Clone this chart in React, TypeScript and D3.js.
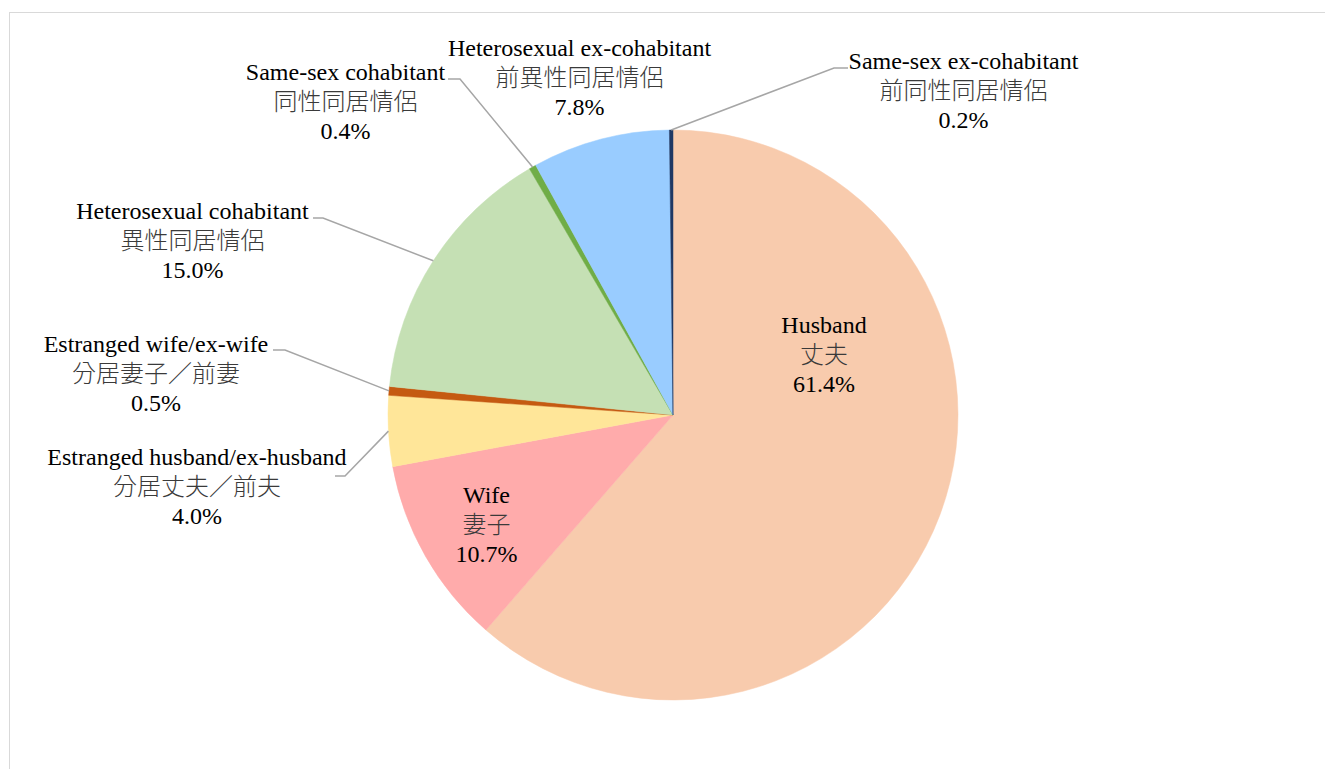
import React from "react";
import * as d3 from "d3";

const categories = [
  "Husband",
  "Wife",
  "Estranged husband/ex-husband",
  "Estranged wife/ex-wife",
  "Heterosexual cohabitant",
  "Same-sex cohabitant",
  "Heterosexual ex-cohabitant",
  "Same-sex ex-cohabitant",
];
const categoriesZh = [
  "丈夫",
  "妻子",
  "分居丈夫／前夫",
  "分居妻子／前妻",
  "異性同居情侶",
  "同性同居情侶",
  "前異性同居情侶",
  "前同性同居情侶",
];
const values = [61.4, 10.7, 4.0, 0.5, 15.0, 0.4, 7.8, 0.2];
const colors = ["#F8CBAD", "#FFABAB", "#FFE699", "#C55A11", "#C5E0B4", "#70AD47", "#99CCFF", "#1F3864"];

// label layout: text center x, first baseline y, leader (null = none): [hx0, hx1, hy]
const labelLayout: { x: number; y: number; leader: null | [number, number, number] }[] = [
  { x: 824, y: 333, leader: null },
  { x: 486.5, y: 503, leader: null },
  { x: 197, y: 465, leader: [335, 345, 476] },
  { x: 156, y: 352, leader: [273, 285, 350] },
  { x: 192.5, y: 219, leader: [313, 323, 218] },
  { x: 345.5, y: 80, leader: [448, 460, 79] },
  { x: 579.5, y: 56, leader: null },
  { x: 963.5, y: 69, leader: [848, 834, 68] },
];

const W = 1325;
const H = 769;
const cx = 673;
const cy = 415;
const R = 285;
const LH = 29.5;

const SERIF = '"Liberation Serif", "Times New Roman", "DejaVu Serif", serif';
const CJK = '"Noto Sans CJK TC", "Noto Sans CJK SC", sans-serif';

export default function App() {
  const pie = d3.pie<number>().sort(null).value((d) => d).startAngle(0).endAngle(2 * Math.PI);
  const arcs = pie(values);
  const arc = d3.arc<d3.PieArcDatum<number>>().innerRadius(0).outerRadius(R);

  return (
    <svg
      width={W}
      height={H}
      style={{ position: "absolute", left: 0, top: 0, display: "block", background: "#fff" }}
    >
      <rect x={9.5} y={12.5} width={1400} height={800} fill="#fff" stroke="#D9D9D9" strokeWidth={1} />
      <g transform={`translate(${cx},${cy})`}>
        {arcs.map((a, i) => (
          <path key={i} d={arc(a) || ""} fill={colors[i]} stroke={colors[i]} strokeWidth={0.5} />
        ))}
      </g>
      {arcs.map((a, i) => {
        const L = labelLayout[i];
        if (!L.leader) return null;
        const mid = (a.startAngle + a.endAngle) / 2;
        const px = cx + R * Math.sin(mid);
        const py = cy - R * Math.cos(mid);
        const [x0, x1, hy] = L.leader;
        return (
          <polyline
            key={"l" + i}
            points={`${x0},${hy} ${x1},${hy} ${px},${py}`}
            fill="none"
            stroke="#A6A6A6"
            strokeWidth={1.5}
          />
        );
      })}
      {arcs.map((a, i) => {
        const L = labelLayout[i];
        return (
          <g key={"t" + i}>
            <text x={L.x} y={L.y} textAnchor="middle" fill="#000" style={{ fontFamily: SERIF, fontSize: 24 }}>
              {categories[i]}
            </text>
            <text
              x={L.x}
              y={L.y + LH}
              textAnchor="middle"
              fill="#3A3A3A"
              style={{ fontFamily: CJK, fontSize: 24, fontWeight: 300 }}
            >
              {categoriesZh[i]}
            </text>
            <text
              x={L.x}
              y={L.y + 2 * LH}
              textAnchor="middle"
              fill="#000"
              style={{ fontFamily: SERIF, fontSize: 24 }}
            >
              {values[i].toFixed(1) + "%"}
            </text>
          </g>
        );
      })}
    </svg>
  );
}
